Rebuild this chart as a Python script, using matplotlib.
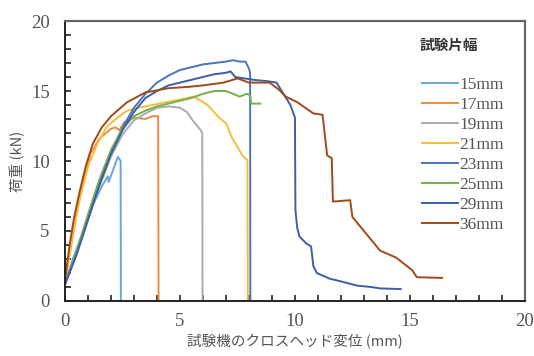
import matplotlib
matplotlib.use("Agg")
import matplotlib.pyplot as plt
from matplotlib.ticker import MultipleLocator

labels = ["15mm", "17mm", "19mm", "21mm", "23mm", "25mm", "29mm", "36mm"]
colors = ["#6aa5dc", "#f08a44", "#ababab", "#f5bd3a", "#4a73c0", "#74b04e", "#3d5ea8", "#a04a18"]

x15 = [0, 0.3, 0.7, 1.2, 1.6, 1.87, 1.9, 2.1, 2.3, 2.42, 2.43]
y15 = [1.2, 2.8, 4.6, 6.8, 8.2, 8.9, 8.5, 9.4, 10.3, 10.0, 0]

x17 = [0, 0.2, 0.5, 0.8, 1.1, 1.5, 2.0, 2.2, 2.35, 2.6, 3.0, 3.5, 3.8, 4.05, 4.07]
y17 = [1.5, 3.5, 6.2, 8.6, 10.5, 11.6, 12.3, 12.4, 12.2, 12.8, 13.1, 13.0, 13.2, 13.2, 0]

x19 = [0, 0.5, 1.0, 1.5, 2.0, 2.5, 3.0, 3.5, 4.0, 4.5, 5.0, 5.3, 5.6, 5.9, 5.97, 5.98]
y19 = [1.2, 3.3, 5.8, 8.2, 10.3, 11.9, 12.9, 13.4, 13.8, 13.9, 13.8, 13.5, 12.8, 12.2, 12.0, 0]

x21 = [0, 0.3, 0.6, 1.0, 1.4, 1.8, 2.2, 2.7, 3.2, 3.8, 4.4, 5.0, 5.6, 6.2, 6.7, 7.0, 7.25, 7.5, 7.75, 7.93, 7.95]
y21 = [1.4, 4.2, 7.0, 9.6, 11.2, 12.4, 13.0, 13.6, 13.8, 14.0, 14.2, 14.4, 14.6, 14.0, 13.1, 12.7, 11.7, 11.0, 10.3, 10.1, 0]

x23 = [0, 0.5, 1.0, 1.5, 2.0, 2.5, 3.0, 3.5, 4.0, 4.5, 5.0, 5.5, 6.0, 6.5, 7.0, 7.3, 7.6, 7.85, 8.0, 8.05, 8.06]
y23 = [1.2, 3.4, 5.9, 8.4, 10.6, 12.4, 13.8, 14.8, 15.6, 16.1, 16.5, 16.7, 16.9, 17.0, 17.1, 17.2, 17.1, 17.1, 16.6, 16.3, 0]

x25 = [0, 0.5, 1.0, 1.5, 2.0, 2.5, 3.0, 3.5, 4.0, 4.5, 5.0, 5.5, 6.0, 6.5, 7.0, 7.3, 7.6, 7.9, 8.05, 8.1, 8.5]
y25 = [1.3, 3.5, 6.2, 8.7, 10.8, 12.3, 13.2, 13.6, 13.9, 14.1, 14.3, 14.5, 14.8, 15.0, 15.0, 14.8, 14.6, 14.8, 14.7, 14.1, 14.1]

x29 = [0, 0.5, 1.0, 1.5, 2.0, 2.5, 3.0, 3.5, 4.0, 4.5, 5.0, 5.5, 6.0, 6.5, 7.0, 7.2, 7.4, 7.8, 8.2, 8.8,
       9.2, 9.5, 9.8, 10.0, 10.02, 10.1, 10.2, 10.5, 10.7, 10.8, 10.95, 11.5, 12.0, 12.7, 13.3, 13.7, 14.6]
y29 = [1.2, 3.3, 5.8, 8.3, 10.5, 12.2, 13.5, 14.5, 15.0, 15.4, 15.6, 15.8, 16.0, 16.2, 16.3, 16.4, 16.0, 15.9, 15.8, 15.7,
       15.6, 14.8, 14.0, 13.1, 6.5, 5.2, 4.6, 4.1, 3.9, 2.5, 2.0, 1.6, 1.4, 1.1, 1.0, 0.9, 0.85]

x36 = [0, 0.2, 0.4, 0.65, 0.9, 1.2, 1.6, 2.0, 2.7, 3.5, 4.5, 5.4, 6.0, 6.9, 7.5, 8.0, 8.9, 9.3, 9.6, 10.1,
       10.8, 11.2, 11.4, 11.6, 11.65, 12.4, 12.5, 13.1, 13.7, 14.4, 15.1, 15.3, 16.4]
y36 = [1.5, 4.0, 6.0, 7.9, 9.6, 11.2, 12.4, 13.2, 14.2, 14.9, 15.2, 15.3, 15.4, 15.6, 15.9, 15.6, 15.6, 15.1, 14.6, 14.2,
       13.4, 13.3, 10.4, 10.2, 7.1, 7.2, 6.0, 4.8, 3.6, 3.1, 2.2, 1.7, 1.65]

xs = [x15, x17, x19, x21, x23, x25, x29, x36]
ys = [y15, y17, y19, y21, y23, y25, y29, y36]

serif = ["Liberation Serif", "DejaVu Serif"]
jp = ["Noto Sans CJK JP", "Liberation Serif"]

fig = plt.figure(figsize=(5.34, 3.56), dpi=100)
ax = fig.add_axes([0.1217, 0.1545, 0.8613, 0.7865])

for xv, yv, c, lab in zip(xs, ys, colors, labels):
    ax.plot(xv, yv, color=c, lw=1.4, label=lab)

ax.set_xlim(0, 20)
ax.set_ylim(0, 20)
ax.xaxis.set_major_locator(MultipleLocator(5))
ax.yaxis.set_major_locator(MultipleLocator(5))
ax.xaxis.set_minor_locator(MultipleLocator(1))
ax.yaxis.set_minor_locator(MultipleLocator(1))
ax.tick_params(which="both", direction="in", length=4, width=1.2, color="#222",
               top=False, right=False)
ax.tick_params(axis="x", which="major", pad=9, labelsize=13.5, labelcolor="#555")
ax.tick_params(axis="y", which="major", pad=11, labelsize=13.5, labelcolor="#555")
for lbl in ax.get_xticklabels() + ax.get_yticklabels():
    lbl.set_fontfamily(serif)

for side in ["left", "bottom"]:
    ax.spines[side].set_color("#222")
    ax.spines[side].set_linewidth(1.4)
for side in ["top", "right"]:
    ax.spines[side].set_color("#666")
    ax.spines[side].set_linewidth(1.6)

ax.set_xlabel("試験機のクロスヘッド変位 (mm)", family=jp, fontsize=10.5, color="#555", labelpad=3)
ax.set_ylabel("荷重 (kN)", family=jp, fontsize=10.5, color="#555", labelpad=4)

fig.text(420 / 534, 1 - 45 / 356, "試験片幅", family=["Noto Sans CJK JP"], fontweight="bold",
         fontsize=10.5, color="#333", ha="left", va="center")

leg = ax.legend(loc="upper left", bbox_to_anchor=(422 / 534, 1 - 77 / 356),
                bbox_transform=fig.transFigure, frameon=False,
                handlelength=2.1, handletextpad=0.05,
                labelspacing=0.22, borderaxespad=0, borderpad=0,
                prop={"family": serif, "size": 12.5})
for t in leg.get_texts():
    t.set_color("#555")

fig.savefig("out.png", dpi=100)
